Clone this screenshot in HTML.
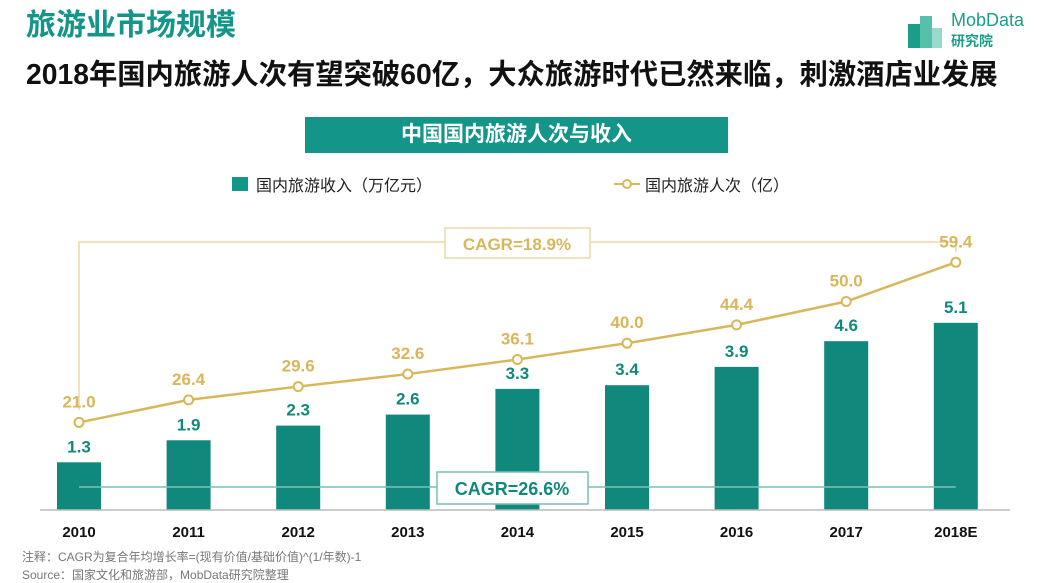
<!DOCTYPE html>
<html><head><meta charset="utf-8">
<style>
body{margin:0;width:1047px;height:583px;background:#fff;overflow:hidden;font-family:"Liberation Sans","Noto Sans CJK SC",sans-serif;position:relative}
.abs{position:absolute}
</style></head><body>
<div class="abs" style="left:26px;top:0px;font-size:30px;font-weight:bold;color:#14958a">旅游业市场规模</div>
<div class="abs" style="left:26px;top:52px;font-size:28.3px;font-weight:bold;color:#111">2018年国内旅游人次有望突破60亿，大众旅游时代已然来临，刺激酒店业发展</div>
<div class="abs" style="left:906px;top:10px;width:135px;height:40px">
 <svg width="40" height="40" class="abs" style="left:0;top:0"><rect x="2" y="14" width="12" height="24" fill="#1a9e8a"/><rect x="14" y="6" width="12" height="32" fill="#57c0ad"/><rect x="26" y="18" width="10" height="20" fill="#9bd8cc"/></svg>
 <div class="abs" style="left:45px;top:0;font-size:18px;color:#1a9e8a">MobData</div>
 <div class="abs" style="left:45px;top:21px;font-size:14px;color:#1a9e8a;font-weight:bold">研究院</div>
</div>
<div class="abs" style="left:305px;top:117px;width:423px;height:36px;background:#14958a;color:#fff;font-size:21px;font-weight:bold;text-align:center;line-height:36px">中国国内旅游人次与收入</div>
<svg class="abs" style="left:0;top:0" width="1047" height="583" id="chart"></svg>
<div class="abs" style="left:22px;top:548px;font-size:12px;color:#777">注释：CAGR为复合年均增长率=(现有价值/基础价值)^(1/年数)-1</div>
<div class="abs" style="left:22px;top:566px;font-size:12px;color:#777">Source：国家文化和旅游部，MobData研究院整理</div>
<script>
const categories=["2010","2011","2012","2013","2014","2015","2016","2017","2018E"];
const revenue=[1.3,1.9,2.3,2.6,3.3,3.4,3.9,4.6,5.1];
const trips=[21.0,26.4,29.6,32.6,36.1,40.0,44.4,50.0,59.4];
const revLabels=["1.3","1.9","2.3","2.6","3.3","3.4","3.9","4.6","5.1"];
const tripLabels=["21.0","26.4","29.6","32.6","36.1","40.0","44.4","50.0","59.4"];
const NS="http://www.w3.org/2000/svg";
const svg=document.getElementById('chart');
const base=510;
const xs=i=>79+i*109.6;
const yr=v=>base-v*36.7;
const yt=v=>base-v*4.17;
function mk(t,a,p){const e=document.createElementNS(NS,t);for(const k in a)e.setAttribute(k,a[k]);(p||svg).appendChild(e);return e;}
let lg=mk('rect',{x:232,y:177,width:16,height:14,fill:'#14958a'});


let lt=mk('text',{x:256,y:191,'font-size':16,fill:'#222'});lt.textContent='国内旅游收入（万亿元）';


let ll=mk('line',{x1:614,y1:184,x2:640,y2:184,stroke:'#d8b65a','stroke-width':2});


mk('circle',{cx:627,cy:184,r:4,fill:'#fff',stroke:'#d8b65a','stroke-width':2});
let lt2=mk('text',{x:645,y:191,'font-size':16,fill:'#222'});lt2.textContent='国内旅游人次（亿）';


const n=categories.length;
let b1=mk('polyline',{points:`${xs(0)},${yt(trips[0])-12} ${xs(0)},242 ${xs(n-1)},242 ${xs(n-1)},${yt(trips[n-1])-10}`,fill:'none',stroke:'#ecd9a6','stroke-width':1.5});


categories.forEach((c,i)=>{
 const r=mk('rect',{x:xs(i)-22,y:yr(revenue[i]),width:44,height:base-yr(revenue[i]),fill:'#11887c'});
 
 
 const t=mk('text',{x:xs(i),y:yr(revenue[i])-10,'text-anchor':'middle','font-size':17,'font-weight':'bold',fill:'#11887c'});t.textContent=revLabels[i];
 
 
 const xl=mk('text',{x:xs(i),y:537,'text-anchor':'middle','font-size':15,'font-weight':'bold',fill:'#111'});xl.textContent=c;
 
 
});
let b2=mk('line',{x1:xs(0),y1:487,x2:xs(n-1),y2:487,stroke:'#7cbfb5','stroke-width':1.5});


let ax=mk('line',{x1:40,y1:base,x2:1010,y2:base,stroke:'#bbb','stroke-width':1.5});


let pl=mk('polyline',{points:trips.map((v,i)=>xs(i)+','+yt(v)).join(' '),fill:'none',stroke:'#d8b65a','stroke-width':2.5});


trips.forEach((v,i)=>{
 const c=mk('circle',{cx:xs(i),cy:yt(v),r:4.5,fill:'#fff',stroke:'#d8b65a','stroke-width':2});
 
 
 const t=mk('text',{x:xs(i),y:yt(v)-15,'text-anchor':'middle','font-size':17,'font-weight':'bold',fill:'#d8b65a'});t.textContent=tripLabels[i];
 
 
});
let c1=mk('rect',{x:445,y:228,width:145,height:30,fill:'#fff',stroke:'#ecd9a6','stroke-width':1.5});


let c1t=mk('text',{x:517,y:250,'text-anchor':'middle','font-size':17,'font-weight':'bold',fill:'#d8b65a'});c1t.textContent='CAGR=18.9%';
let c2=mk('rect',{x:437,y:472,width:151,height:32,fill:'#fff',stroke:'#7cbfb5','stroke-width':1.5});


let c2t=mk('text',{x:512,y:495,'text-anchor':'middle','font-size':18,'font-weight':'bold',fill:'#11887c'});c2t.textContent='CAGR=26.6%';
</script>
</body></html>
